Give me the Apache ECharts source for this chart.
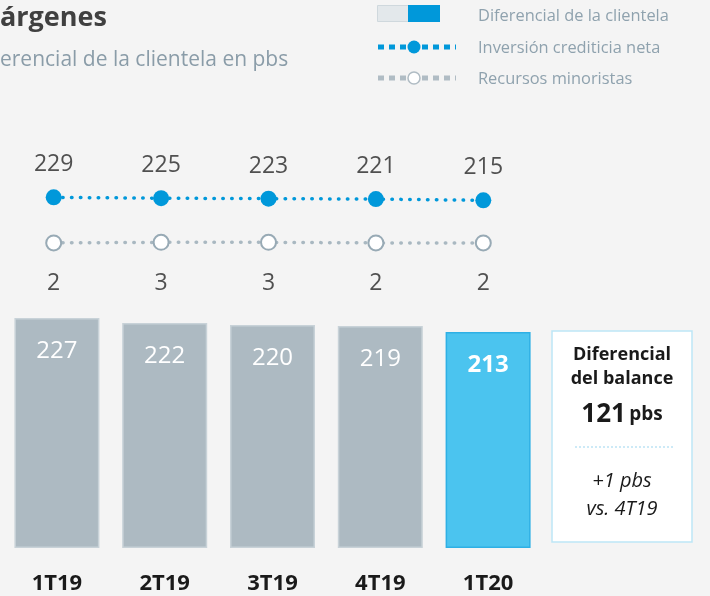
<!DOCTYPE html>
<html>
<head>
<meta charset="utf-8">
<script src="https://cdn.jsdelivr.net/npm/echarts@6/dist/echarts.min.js"></script>
<style>
  html, body { margin: 0; padding: 0; background: #f4f4f4; }
  #chart { width: 710px; height: 596px; }
</style>
</head>
<body>
<div id="chart"></div>
<script>
  // datos
  var quarters = ['1T19', '2T19', '3T19', '4T19', '1T20']
  var diferencialClientela = [227, 222, 220, 219, 213]
  var inversionCrediticia = [229, 225, 223, 221, 215]
  var recursosMinoristas = [2, 3, 3, 2, 2]

  var font = '"Open Sans", "Noto Sans", sans-serif'
  var chart = echarts.init(document.getElementById('chart'))

  var barData = diferencialClientela.map(function (v, i) {
    if (i === diferencialClientela.length - 1) {
      return {
        value: v,
        itemStyle: { color: '#4bc4ef', borderColor: '#2eb0e5', borderWidth: 1.5 },
        label: { fontWeight: 'bold' }
      }
    }
    return v
  })

  chart.setOption({
    backgroundColor: '#f4f4f4',
    animation: false,
    grid: [
      { left: 3, width: 539, top: 100, bottom: 48 },
      { left: -2, width: 539, top: 150, height: 150 }
    ],
    xAxis: [
      {
        type: 'category',
        gridIndex: 0,
        data: quarters,
        axisLine: { show: false },
        axisTick: { show: false },
        axisLabel: {
          margin: 25,
          fontFamily: font,
          fontSize: 22,
          fontWeight: 'bold',
          color: '#1a1a1a'
        }
      },
      {
        type: 'category',
        gridIndex: 1,
        data: quarters,
        show: false
      }
    ],
    yAxis: [
      { type: 'value', gridIndex: 0, min: 0, max: 442, show: false },
      { type: 'value', gridIndex: 1, min: -250, max: 450, show: false },
      { type: 'value', gridIndex: 1, min: -100, max: 168, show: false }
    ],
    series: [
      {
        name: 'Diferencial de la clientela',
        type: 'bar',
        xAxisIndex: 0,
        yAxisIndex: 0,
        barWidth: 85,
        itemStyle: {
          color: '#adbac2',
          borderColor: '#c8d2d8',
          borderWidth: 1.5
        },
        label: {
          show: true,
          position: 'insideTop',
          distance: 21,
          fontFamily: font,
          fontSize: 24,
          color: '#ffffff'
        },
        data: barData
      },
      {
        name: 'Inversión crediticia neta',
        type: 'line',
        xAxisIndex: 1,
        yAxisIndex: 1,
        symbol: 'circle',
        symbolSize: 16,
        itemStyle: { color: '#0098da' },
        lineStyle: { color: '#0098da', width: 3.5, type: [0.5, 8.4], cap: 'round' },
        label: {
          show: true,
          position: 'top',
          distance: 13,
          fontFamily: font,
          fontSize: 23,
          color: '#505050'
        },
        data: inversionCrediticia
      },
      {
        name: 'Recursos minoristas',
        type: 'line',
        xAxisIndex: 1,
        yAxisIndex: 2,
        symbol: 'circle',
        symbolSize: 15,
        itemStyle: { color: '#ffffff', borderColor: '#98aab5', borderWidth: 2 },
        lineStyle: { color: '#a9b8c1', width: 3.5, type: [0.5, 8.4], cap: 'round' },
        label: {
          show: true,
          position: 'bottom',
          distance: 21,
          fontFamily: font,
          fontSize: 23,
          color: '#505050'
        },
        data: recursosMinoristas
      }
    ],
    graphic: [
      // titulo (recortado)
      { type: 'text', left: 0, top: 5, style: { text: 'árgenes', fontFamily: font, fontSize: 27, fontWeight: 'bold', fill: '#404040' } },
      { type: 'text', left: 0, top: 50, style: { text: 'erencial de la clientela en pbs', fontFamily: font, fontSize: 21, fill: '#8a9ca8' } },

      // leyenda
      { type: 'rect', shape: { x: 377.5, y: 5.5, width: 31, height: 16 }, style: { fill: '#e3e8eb', stroke: '#cfd8dd', lineWidth: 1 } },
      { type: 'rect', shape: { x: 408, y: 5, width: 32, height: 17 }, style: { fill: '#0098da' } },
      { type: 'line', shape: { x1: 378, y1: 47, x2: 456, y2: 47 }, style: { stroke: '#0098da', lineWidth: 5, lineDash: [6, 5] } },
      { type: 'circle', shape: { cx: 414, cy: 47, r: 6.5 }, style: { fill: '#0098da' } },
      { type: 'line', shape: { x1: 378, y1: 78, x2: 456, y2: 78 }, style: { stroke: '#b0bcc4', lineWidth: 5, lineDash: [6, 5] } },
      { type: 'circle', shape: { cx: 414, cy: 78, r: 6 }, style: { fill: '#ffffff', stroke: '#b0bcc4', lineWidth: 1.5 } },
      { type: 'text', left: 478, top: 8, style: { text: 'Diferencial de la clientela', fontFamily: font, fontSize: 16.4, fill: '#8fa2ae' } },
      { type: 'text', left: 478, top: 40, style: { text: 'Inversión crediticia neta', fontFamily: font, fontSize: 16.4, fill: '#8fa2ae' } },
      { type: 'text', left: 478, top: 71, style: { text: 'Recursos minoristas', fontFamily: font, fontSize: 16.4, fill: '#8fa2ae' } },

      // caja diferencial del balance
      { type: 'rect', shape: { x: 552, y: 331, width: 140, height: 211 }, style: { fill: '#ffffff', stroke: '#bde6f6', lineWidth: 1.5 } },
      { type: 'text', x: 622, y: 355, style: { text: 'Diferencial', align: 'center', verticalAlign: 'middle', fontFamily: font, fontSize: 18, fontWeight: 'bold', fill: '#1a1a1a' } },
      { type: 'text', x: 622, y: 379, style: { text: 'del balance', align: 'center', verticalAlign: 'middle', fontFamily: font, fontSize: 18, fontWeight: 'bold', fill: '#1a1a1a' } },
      {
        type: 'text', x: 622, y: 415,
        style: {
          text: '{a|121} {b|pbs}', align: 'center', verticalAlign: 'middle',
          rich: {
            a: { fontFamily: font, fontSize: 26, fontWeight: 'bold', fill: '#1a1a1a' },
            b: { fontFamily: font, fontSize: 19, fontWeight: 'bold', fill: '#1a1a1a' }
          }
        }
      },
      { type: 'line', shape: { x1: 575, y1: 447, x2: 675, y2: 447 }, style: { stroke: '#cdeaf7', lineWidth: 2, lineDash: [2, 2] } },
      { type: 'text', x: 622, y: 481, style: { text: '+1 pbs', align: 'center', verticalAlign: 'middle', fontFamily: font, fontSize: 20, fontStyle: 'italic', fill: '#1a1a1a' } },
      { type: 'text', x: 622, y: 509, style: { text: 'vs. 4T19', align: 'center', verticalAlign: 'middle', fontFamily: font, fontSize: 20, fontStyle: 'italic', fill: '#1a1a1a' } }
    ]
  })
</script>
</body>
</html>
